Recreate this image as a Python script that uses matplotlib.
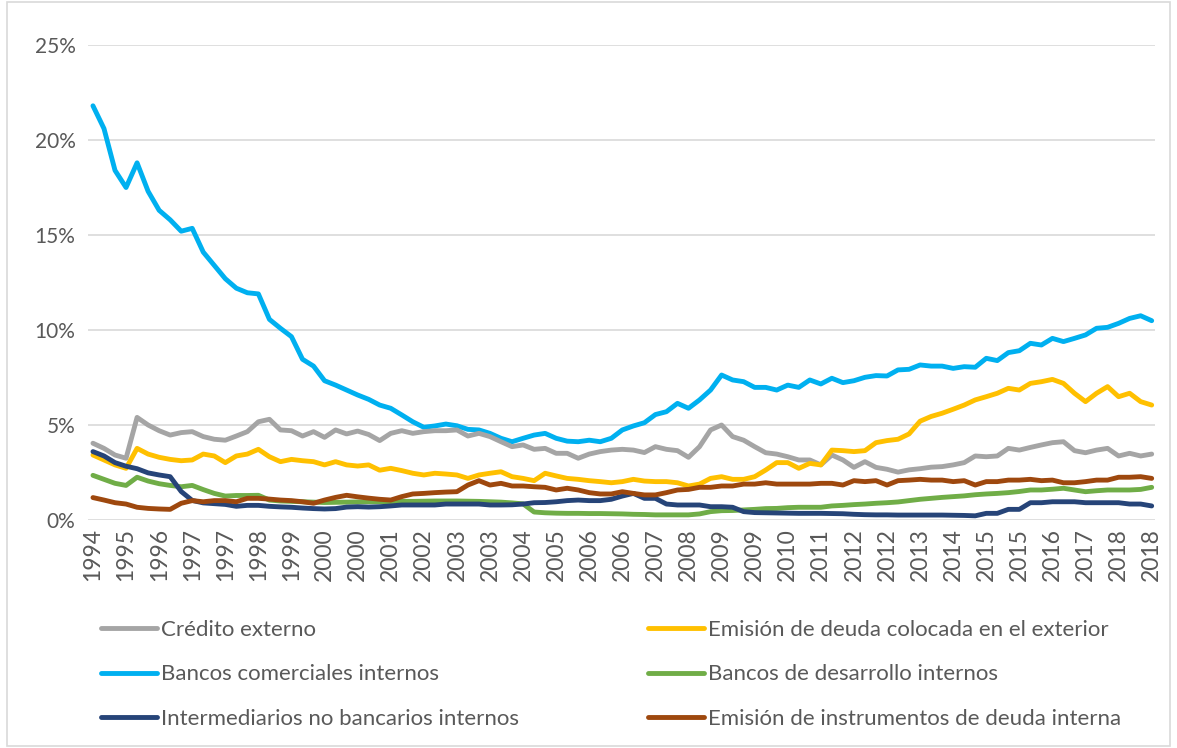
import matplotlib
matplotlib.use("Agg")
import matplotlib.pyplot as plt
from matplotlib.patches import Rectangle
from matplotlib.ticker import FuncFormatter

plt.rcParams["font.family"] = ["Lato", "DejaVu Sans"]

# quarterly series, 1994Q4 .. 2018Q4 (share of total, %)
credito_externo = [
    4.04, 3.77, 3.42, 3.25, 5.40, 5.00, 4.70, 4.47, 4.60, 4.65,
    4.39, 4.25, 4.20, 4.42, 4.65, 5.17, 5.30, 4.74, 4.70, 4.42,
    4.65, 4.35, 4.74, 4.53, 4.68, 4.50, 4.18, 4.56, 4.70, 4.56,
    4.65, 4.70, 4.70, 4.74, 4.42, 4.56, 4.39, 4.12, 3.86, 3.95,
    3.72, 3.77, 3.51, 3.51, 3.25, 3.47, 3.60, 3.68, 3.72, 3.68,
    3.55, 3.86, 3.72, 3.65, 3.30, 3.86, 4.74, 5.00, 4.39, 4.20,
    3.86, 3.54, 3.47, 3.33, 3.16, 3.16, 2.90, 3.42, 3.16, 2.77,
    3.07, 2.77, 2.67, 2.52, 2.64, 2.70, 2.78, 2.81, 2.90, 3.02,
    3.37, 3.33, 3.37, 3.77, 3.68, 3.82, 3.95, 4.07, 4.12, 3.65,
    3.54, 3.68, 3.77, 3.37, 3.51, 3.37, 3.47,
]
deuda_exterior = [
    3.42, 3.16, 2.90, 2.72, 3.77, 3.47, 3.30, 3.19, 3.12, 3.16,
    3.47, 3.37, 3.02, 3.37, 3.47, 3.72, 3.33, 3.07, 3.19, 3.12,
    3.07, 2.90, 3.07, 2.90, 2.84, 2.90, 2.62, 2.72, 2.60, 2.46,
    2.37, 2.46, 2.42, 2.37, 2.19, 2.37, 2.46, 2.54, 2.28, 2.19,
    2.07, 2.46, 2.32, 2.19, 2.14, 2.07, 2.02, 1.96, 2.02, 2.14,
    2.05, 2.02, 2.02, 1.96, 1.79, 1.89, 2.19, 2.28, 2.14, 2.14,
    2.28, 2.63, 3.02, 3.02, 2.72, 2.98, 2.90, 3.68, 3.65, 3.60,
    3.65, 4.07, 4.18, 4.25, 4.53, 5.20, 5.45, 5.62, 5.83, 6.05,
    6.32, 6.49, 6.67, 6.93, 6.84, 7.19, 7.28, 7.40, 7.19, 6.67,
    6.23, 6.67, 7.02, 6.49, 6.67, 6.23, 6.05,
]
bancos_comerciales = [
    21.80, 20.60, 18.40, 17.50, 18.80, 17.30, 16.30, 15.80, 15.20, 15.35,
    14.10, 13.40, 12.70, 12.20, 11.96, 11.90, 10.56, 10.09, 9.65, 8.46,
    8.10, 7.33, 7.10, 6.84, 6.58, 6.35, 6.05, 5.88, 5.53, 5.17,
    4.88, 4.95, 5.05, 4.96, 4.77, 4.74, 4.56, 4.30, 4.12, 4.30,
    4.47, 4.56, 4.30, 4.15, 4.12, 4.20, 4.12, 4.30, 4.74, 4.95,
    5.12, 5.55, 5.70, 6.14, 5.88, 6.32, 6.84, 7.63, 7.37, 7.28,
    6.98, 6.98, 6.84, 7.10, 6.98, 7.37, 7.16, 7.46, 7.23, 7.33,
    7.51, 7.60, 7.58, 7.90, 7.93, 8.16, 8.10, 8.10, 7.98, 8.07,
    8.04, 8.51, 8.39, 8.81, 8.91, 9.30, 9.21, 9.56, 9.39, 9.56,
    9.74, 10.09, 10.14, 10.35, 10.61, 10.75, 10.49,
]
bancos_desarrollo = [
    2.35, 2.14, 1.93, 1.82, 2.25, 2.05, 1.91, 1.82, 1.75, 1.82,
    1.60, 1.40, 1.26, 1.29, 1.29, 1.30, 1.05, 1.00, 0.98, 0.96,
    0.94, 0.92, 0.93, 0.94, 0.95, 0.96, 0.96, 0.97, 0.98, 0.98,
    0.99, 1.00, 1.00, 1.00, 0.99, 0.98, 0.96, 0.94, 0.90, 0.85,
    0.42, 0.38, 0.36, 0.35, 0.35, 0.34, 0.34, 0.33, 0.32, 0.30,
    0.29, 0.27, 0.27, 0.27, 0.27, 0.32, 0.44, 0.49, 0.50, 0.53,
    0.56, 0.60, 0.61, 0.65, 0.67, 0.67, 0.67, 0.74, 0.77, 0.81,
    0.84, 0.88, 0.91, 0.95, 1.02, 1.09, 1.14, 1.19, 1.23, 1.27,
    1.33, 1.37, 1.40, 1.44, 1.50, 1.58, 1.58, 1.62, 1.67, 1.58,
    1.49, 1.54, 1.58, 1.58, 1.58, 1.61, 1.72,
]
no_bancarios = [
    3.60, 3.37, 3.02, 2.83, 2.70, 2.48, 2.37, 2.28, 1.50, 1.03,
    0.90, 0.86, 0.82, 0.72, 0.77, 0.77, 0.72, 0.69, 0.67, 0.63,
    0.60, 0.58, 0.60, 0.68, 0.70, 0.68, 0.70, 0.74, 0.79, 0.79,
    0.79, 0.79, 0.84, 0.84, 0.84, 0.84, 0.79, 0.79, 0.80, 0.84,
    0.91, 0.92, 0.96, 1.02, 1.05, 1.02, 1.02, 1.09, 1.26, 1.40,
    1.14, 1.14, 0.84, 0.79, 0.79, 0.79, 0.70, 0.70, 0.67, 0.44,
    0.39, 0.38, 0.37, 0.36, 0.35, 0.35, 0.35, 0.34, 0.33, 0.30,
    0.28, 0.27, 0.27, 0.26, 0.26, 0.26, 0.26, 0.26, 0.25, 0.24,
    0.22, 0.35, 0.35, 0.56, 0.56, 0.91, 0.91, 0.96, 0.96, 0.96,
    0.91, 0.91, 0.91, 0.91, 0.84, 0.84, 0.74,
]
deuda_interna = [
    1.18, 1.05, 0.91, 0.84, 0.67, 0.61, 0.58, 0.56, 0.88, 1.02,
    0.96, 1.02, 1.02, 0.96, 1.14, 1.14, 1.10, 1.05, 1.02, 0.96,
    0.88, 1.05, 1.19, 1.30, 1.22, 1.15, 1.09, 1.05, 1.23, 1.37,
    1.40, 1.44, 1.47, 1.49, 1.84, 2.07, 1.84, 1.93, 1.79, 1.79,
    1.75, 1.72, 1.58, 1.67, 1.58, 1.44, 1.37, 1.37, 1.49, 1.40,
    1.32, 1.32, 1.44, 1.58, 1.61, 1.72, 1.72, 1.79, 1.79, 1.89,
    1.89, 1.96, 1.89, 1.89, 1.89, 1.89, 1.93, 1.93, 1.84, 2.07,
    2.02, 2.07, 1.84, 2.07, 2.10, 2.14, 2.10, 2.10, 2.02, 2.07,
    1.84, 2.02, 2.02, 2.10, 2.10, 2.14, 2.07, 2.10, 1.96, 1.96,
    2.02, 2.10, 2.10, 2.25, 2.25, 2.28, 2.19,
]

# year of each quarter: 1994Q4 first, then four quarters per year up to 2018
quarter_years = [1994] + [y for y in range(1995, 2019) for _ in range(4)]

series = [
    ("Crédito externo", credito_externo, "#A5A5A5"),
    ("Bancos comerciales internos", bancos_comerciales, "#00B0F0"),
    ("Intermediarios no bancarios internos", no_bancarios, "#264478"),
    ("Emisión de deuda colocada en el exterior", deuda_exterior, "#FFC000"),
    ("Bancos de desarrollo internos", bancos_desarrollo, "#70AD47"),
    ("Emisión de instrumentos de deuda interna", deuda_interna, "#9E480E"),
]

TEXT = "#595959"
GRID = "#D9D9D9"

fig = plt.figure(figsize=(11.77, 7.48), dpi=100)
ax = fig.add_axes([88 / 1177, 1 - 520 / 748, (1155 - 88) / 1177, (520 - 45) / 748])

x = list(range(len(quarter_years)))
# draw in this order so the blue line sits under the others
for label, vals, color in [series[1], series[0], series[3], series[4], series[2], series[5]]:
    ax.plot(x, vals, color=color, lw=3.5, solid_capstyle="round",
            solid_joinstyle="round", label=label)
handles = {ln.get_label(): ln for ln in ax.get_lines()}

ax.set_xlim(-0.45, len(x) - 1 + 0.3)
ax.set_ylim(0, 25)
ax.set_yticks(range(0, 26, 5))
ax.yaxis.set_major_formatter(FuncFormatter(lambda v, p: f"{v:.0f}%"))
ax.set_xticks(x[::3])
ax.set_xticklabels([str(quarter_years[i]) for i in x[::3]], rotation=90)

ax.grid(axis="y", color=GRID, lw=1.2)
ax.set_axisbelow(True)
for s in ax.spines.values():
    s.set_visible(False)
ax.tick_params(axis="both", length=0, colors=TEXT)
ax.tick_params(axis="y", pad=9, labelsize=15)
ax.tick_params(axis="x", pad=6, labelsize=16.5)

left_names = [s[0] for s in series[:3]]
right_names = [s[0] for s in series[3:]]
common = dict(frameon=False, fontsize=16, handlelength=2.5, handletextpad=0.2,
              labelspacing=1.1, borderaxespad=0, borderpad=0, labelcolor=TEXT)
fig.legend([handles[n] for n in left_names], left_names, loc="upper left",
           bbox_to_anchor=(101 / 1177, 1 - 620 / 748), **common)
fig.legend([handles[n] for n in right_names], right_names, loc="upper left",
           bbox_to_anchor=(648 / 1177, 1 - 620 / 748), **common)

# light chart-area frame
fig.patches.append(Rectangle((7 / 1177, 2 / 748), 1163 / 1177, 744 / 748,
                             transform=fig.transFigure, fill=False,
                             edgecolor=GRID, lw=1.2))

fig.savefig("out.png", dpi=100)
